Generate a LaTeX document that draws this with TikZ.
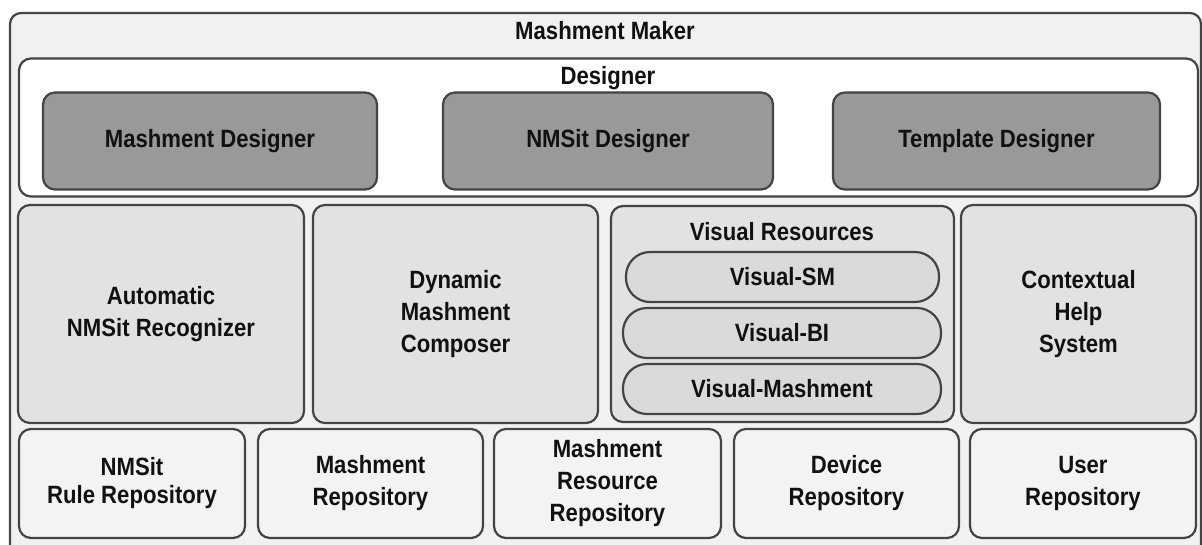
\documentclass[tikz,border=0pt]{standalone}
\usepackage{fontspec}
\setmainfont{Liberation Sans}[FakeStretch=0.885]
\definecolor{edge}{HTML}{444444}
\definecolor{outerfill}{HTML}{F1F1F1}
\definecolor{darkfill}{HTML}{999999}
\definecolor{midfill}{HTML}{E2E2E2}
\definecolor{pillfill}{HTML}{DADADA}
\definecolor{lightfill}{HTML}{F3F3F3}
\definecolor{ink}{HTML}{111111}
\begin{document}
\begin{tikzpicture}[x=1pt,y=-1pt,
  blk/.style={draw=edge, line width=2.2pt, rounded corners=12pt, align=center,
    inner sep=0pt, text=ink, font=\fontsize{25}{32}\selectfont\bfseries},
  title/.style={inner sep=0pt, text=ink, font=\fontsize{25}{32}\selectfont\bfseries},
  pill/.style={blk, rounded corners=24pt, fill=pillfill, minimum width=315pt, minimum height=50pt}
]
\useasboundingbox (0,0) rectangle (1202,544);
\clip (0,0) rectangle (1202,544);

% outer container
\node[blk, fill=outerfill, rounded corners=11pt, minimum width=1191pt, minimum height=547pt] (maker) at (605.5,286.5) {};
\node[title] (makerT) at (605,31) {Mashment Maker};

% designer container
\node[blk, fill=white, minimum width=1179pt, minimum height=138pt] (designer) at (608.5,127.5) {};
\node[title] (designerT) at (608,78) {Designer};
\node[blk, fill=darkfill, minimum width=334pt, minimum height=97pt] (md) at (210,141) {Mashment Designer};
\node[blk, fill=darkfill, minimum width=330pt, minimum height=97pt] (nd) at (608,141) {NMSit Designer};
\node[blk, fill=darkfill, minimum width=327pt, minimum height=97pt] (td) at (996.5,141) {Template Designer};

% middle row
\node[blk, fill=midfill, minimum width=286pt, minimum height=218pt] (anr) at (161,314) {Automatic\\NMSit Recognizer};
\node[blk, fill=midfill, minimum width=285pt, minimum height=218pt] (dmc) at (455.5,314) {Dynamic\\Mashment\\Composer};
\node[blk, fill=midfill, minimum width=343pt, minimum height=216pt] (vr) at (782.5,314) {};
\node[title] (vrT) at (782,232) {Visual Resources};
\node[pill, minimum width=313pt] (vsm) at (782.5,277) {Visual-SM};
\node[pill, minimum width=318pt] (vbi) at (782,333) {Visual-BI};
\node[pill, minimum width=318pt] (vm) at (782,389) {Visual-Mashment};
\node[blk, fill=midfill, minimum width=235pt, minimum height=218pt] (chs) at (1078.5,314) {Contextual\\Help\\System};

% repositories
\node[blk, fill=lightfill, minimum width=226pt, minimum height=109pt, font=\fontsize{25}{28}\selectfont\bfseries] (nrr) at (132,483.5) {NMSit\\Rule Repository};
\node[blk, fill=lightfill, minimum width=225pt, minimum height=109pt] (mr) at (370.5,483.5) {Mashment\\Repository};
\node[blk, fill=lightfill, minimum width=227pt, minimum height=109pt] (mrr) at (607.5,483.5) {Mashment\\Resource\\Repository};
\node[blk, fill=lightfill, minimum width=225pt, minimum height=109pt] (dr) at (846.5,483.5) {Device\\Repository};
\node[blk, fill=lightfill, minimum width=226pt, minimum height=109pt] (ur) at (1083,483.5) {User\\Repository};
\end{tikzpicture}
\end{document}
